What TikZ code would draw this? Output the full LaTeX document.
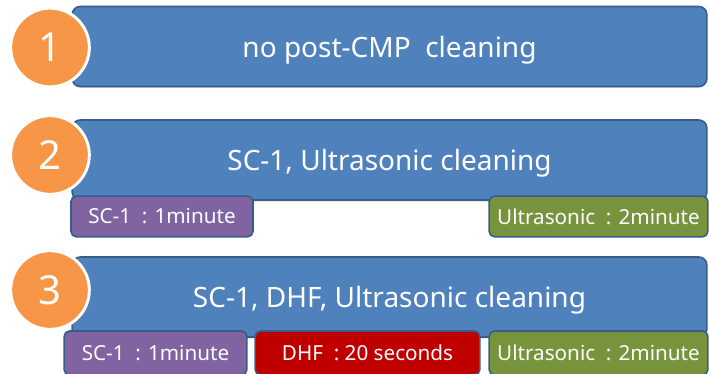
\documentclass[tikz,border=0pt]{standalone}
\usepackage{fontspec}
\setmainfont{Noto Sans}
\usetikzlibrary{positioning, shadows}
\definecolor{barblue}{HTML}{4F81BD}
\definecolor{barline}{HTML}{385D8A}
\definecolor{numorange}{HTML}{F79646}
\definecolor{scpurple}{HTML}{8064A2}
\definecolor{dhfred}{HTML}{C00000}
\definecolor{usgreen}{HTML}{77933C}

\begin{document}
\begin{tikzpicture}[
        x=0.75pt, y=-0.75pt,
        bar/.style={rectangle, draw=barline, line width=1.2pt, fill=barblue, rounded corners=6pt, minimum width=476pt, minimum height=60pt, inner sep=0pt, text depth=0pt, text=white, font=\fontsize{21}{25}\selectfont, drop shadow={opacity=0.25, shadow xshift=0pt, shadow yshift=-1.2pt}},
        numdot/.style={circle, draw=white, line width=2.2pt, fill=numorange, minimum size=59pt, inner sep=0pt, text=white, font=\fontsize{30}{34}\selectfont, drop shadow={opacity=0.25, shadow xshift=0.6pt, shadow yshift=-1pt}},
        stepbox/.style={rectangle, draw=barline, line width=1.2pt, rounded corners=4pt, minimum height=30.5pt, inner sep=0pt, text=white, font=\fontsize{15.5}{18}\selectfont}
    ]
        \useasboundingbox (0,0) rectangle (709,374);

        \node[bar] (B1) at (389.5,46.5) {no post-CMP\ \ cleaning};
        \node[bar] (B2) at (389.5,160) {SC-1, Ultrasonic cleaning};
        \node[bar] (B3) at (389.5,297) {SC-1, DHF, Ultrasonic cleaning};

        \node[numdot] (N1) at (50,47.5) {1};
        \node[numdot] (N2) at (50,155) {2};
        \node[numdot] (N3) at (50,290) {3};

        \node[stepbox, fill=scpurple, minimum width=136.5pt] (S2) at (162,216.5) {SC-1\ \ : 1minute};
        \node[stepbox, fill=usgreen, minimum width=164pt] (U2) at (598.5,216.5) {Ultrasonic\ \ : 2minute};

        \node[stepbox, fill=scpurple, minimum width=137pt, minimum height=33pt] (S3) at (155.5,353) {SC-1\ \ : 1minute};
        \node[stepbox, fill=dhfred, minimum width=168.5pt, minimum height=33pt] (D3) at (367.5,353) {DHF\ \ : 20 seconds};
        \node[stepbox, fill=usgreen, minimum width=164pt, minimum height=33pt] (U3) at (598.5,353) {Ultrasonic\ \ : 2minute};
    \end{tikzpicture}
\end{document}
